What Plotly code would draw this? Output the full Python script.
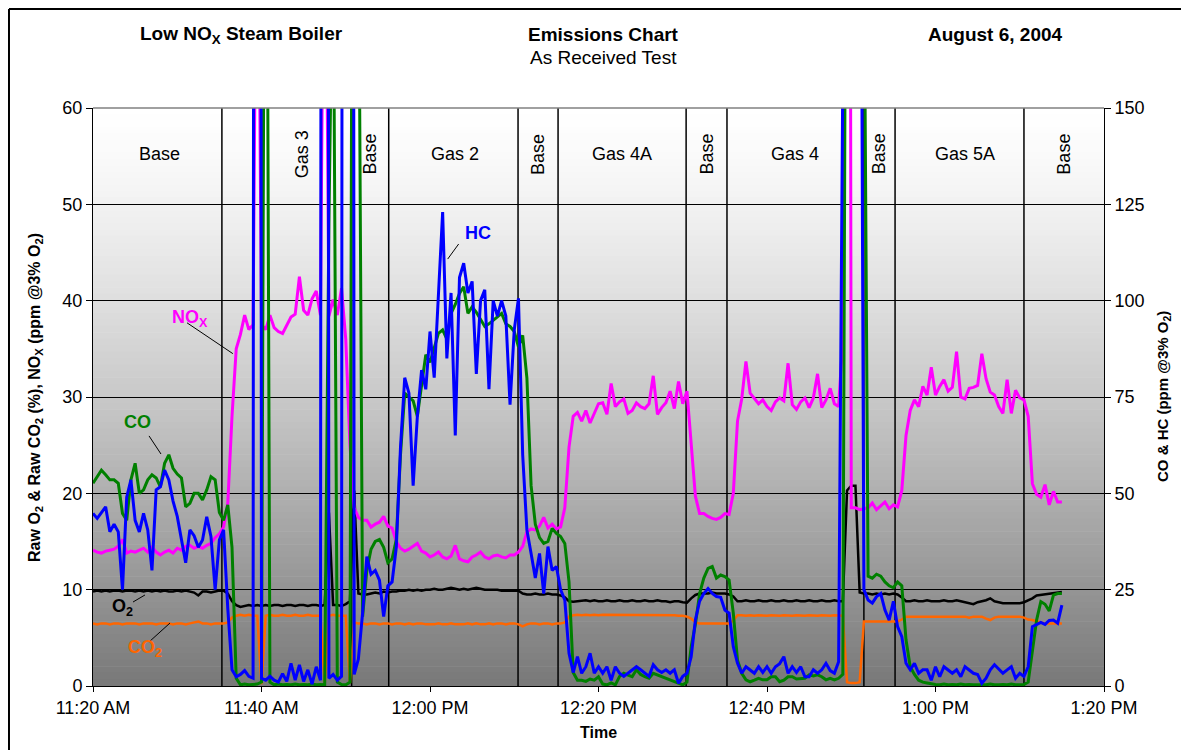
import plotly.graph_objects as go
from datetime import datetime, timedelta

# ---------------- data ----------------
start_time = datetime(2004, 8, 6, 11, 20)
sample_step_min = 0.5          # logger interval in minutes

# Raw O2 (%)  -- left axis, blocks of 5 minutes
o2_pct = [
    9.8, 9.9, 9.8, 9.9, 9.8, 9.9, 9.9, 9.8, 9.9, 9.9,
    9.8, 9.9, 9.8, 9.9, 9.8, 9.9, 9.8, 9.9, 9.8, 9.8,
    9.9, 9.8, 9.9, 9.8, 9.7, 9.4, 9.8, 9.8, 9.7, 9.8,
    9.9, 9.9, 9.6, 8.8, 8.4, 8.2, 8.3, 8.4, 8.3, 8.4,
    8.3, 8.4, 8.3, 8.4, 8.4, 8.3, 8.4, 8.4, 8.3, 8.4,
    8.4, 8.3, 8.4, 8.4, 8.3, 8.4, 18.0, 8.4, 8.4, 8.3,
    8.5, 8.8, 20.3, 9.6, 9.5, 9.5, 9.6, 9.7, 9.6, 9.8,
    9.7, 9.8, 9.8, 9.9, 9.9, 10.0, 9.9, 10.0, 9.9, 10.0,
    10.0, 10.1, 10.0, 10.0, 10.1, 10.2, 10.1, 10.0, 10.1, 10.0,
    10.1, 10.2, 10.1, 10.0, 10.0, 10.0, 10.0, 9.9, 9.9, 9.9,
    9.9, 9.9, 9.6, 9.5, 9.5, 9.6, 9.5, 9.5, 9.6, 9.5,
    9.5, 9.4, 9.2, 8.8, 8.75, 8.8, 8.8, 8.9, 8.8, 8.9,
    8.8, 8.8, 8.9, 8.8, 8.8, 8.9, 8.8, 8.8, 8.9, 8.8,
    8.8, 8.9, 8.8, 8.8, 8.9, 8.8, 8.8, 8.7, 8.8, 8.8,
    8.7, 8.65, 9.1, 9.45, 9.6, 9.6, 9.6, 9.7, 9.6, 9.6,
    9.6, 9.5, 9.3, 8.8, 8.8, 8.9, 8.8, 8.8, 8.9, 8.8,
    8.8, 8.9, 8.8, 8.8, 8.9, 8.8, 8.8, 8.9, 8.8, 8.8,
    8.9, 8.8, 8.8, 8.9, 8.8, 8.8, 8.9, 8.8, 8.8, 20.3,
    20.8, 20.8, 9.7, 9.6, 9.6, 9.5, 9.6, 9.5, 9.6, 9.5,
    9.6, 9.5, 9.2, 8.8, 8.8, 8.9, 8.8, 8.8, 8.9, 8.8,
    8.8, 8.8, 8.9, 8.8, 8.8, 8.9, 8.8, 8.7, 8.6, 8.5,
    8.7, 8.8, 8.9, 9.1, 8.8, 8.7, 8.6, 8.6, 8.6, 8.6,
    8.6, 8.7, 8.9, 9.1, 9.4, 9.45, 9.5, 9.6, 9.65, 9.7,
    9.75,
]

# Raw CO2 (%)  -- left axis
co2_pct = [
    6.5, 6.4, 6.5, 6.5, 6.4, 6.5, 6.5, 6.4, 6.5, 6.5,
    6.5, 6.4, 6.5, 6.5, 6.5, 6.4, 6.5, 6.5, 6.5, 6.4,
    6.5, 6.5, 6.4, 6.5, 6.6, 6.7, 6.5, 6.5, 6.4, 6.5,
    6.5, 6.5, 6.6, 7.1, 7.3, 7.4, 7.3, 7.4, 7.3, 7.3,
    0.2, 7.3, 7.4, 7.3, 7.3, 7.4, 7.3, 7.3, 7.4, 7.3,
    7.3, 7.4, 7.3, 7.3, 7.3, 0.2, 7.3, 7.4, 7.3, 7.3,
    7.3, 0.3, 6.6, 6.5, 6.5, 6.4, 6.5, 6.5, 6.4, 6.5,
    6.5, 6.4, 6.5, 6.5, 6.4, 6.5, 6.4, 6.5, 6.5, 6.4,
    6.4, 6.4, 6.5, 6.4, 6.4, 6.5, 6.4, 6.4, 6.4, 6.5,
    6.4, 6.5, 6.4, 6.4, 6.5, 6.4, 6.5, 6.5, 6.4, 6.5,
    6.5, 6.4, 6.2, 6.4, 6.5, 6.5, 6.4, 6.5, 6.5, 6.4,
    6.5, 6.5, 6.6, 7.2, 7.35, 7.4, 7.35, 7.4, 7.35, 7.4,
    7.35, 7.4, 7.4, 7.35, 7.4, 7.35, 7.4, 7.35, 7.4, 7.35,
    7.4, 7.35, 7.4, 7.35, 7.4, 7.35, 7.35, 7.4, 7.35, 7.3,
    7.3, 7.2, 7.0, 6.6, 6.5, 6.5, 6.5, 6.5, 6.5, 6.5,
    6.5, 6.5, 6.8, 7.35, 7.35, 7.3, 7.35, 7.3, 7.35, 7.3,
    7.3, 7.35, 7.3, 7.3, 7.35, 7.3, 7.3, 7.35, 7.3, 7.3,
    7.35, 7.3, 7.3, 7.35, 7.3, 7.3, 7.35, 7.3, 7.3, 0.4,
    0.3, 0.3, 0.4, 6.7, 6.7, 6.7, 6.7, 6.7, 6.7, 6.7,
    6.7, 6.7, 6.9, 7.2, 7.2, 7.2, 7.2, 7.2, 7.2, 7.2,
    7.2, 7.2, 7.2, 7.2, 7.2, 7.2, 7.2, 7.2, 7.1, 7.2,
    7.2, 7.2, 7.0, 6.85, 7.1, 7.2, 7.2, 7.2, 7.2, 7.2,
    7.2, 7.1, 6.9, 6.85, 6.7, 6.6, 6.5, 6.5, 6.5, 6.5,
    6.5,
]

# NOx (ppm @3% O2)  -- left axis
nox_ppm = [
    14.1, 13.9, 13.8, 14.0, 14.1, 14.2, 14.5, 15.2, 13.8, 14.0,
    13.9, 14.1, 14.3, 13.9, 14.4, 13.9, 13.6, 13.9, 14.1, 13.8,
    14.3, 14.1, 14.5, 14.6, 14.3, 14.5, 14.3, 14.6, 14.8, 15.4,
    15.8, 16.5, 19.0, 28.0, 35.0, 36.5, 38.5, 37.0, 37.5, 95.0,
    37.5, 37.0, 38.5, 37.2, 36.8, 36.6, 37.4, 38.3, 38.6, 42.5,
    39.0, 38.5, 40.2, 41.0, 38.5, 95.0, 38.4, 40.1, 38.5, 41.3,
    36.0, 25.0, 18.5, 17.5, 17.2, 17.2, 16.5, 16.8, 17.0, 17.6,
    16.6, 16.4, 15.0, 14.3, 14.0, 14.2, 14.5, 14.8, 14.0, 13.8,
    13.4, 13.6, 13.9, 13.4, 13.2, 13.5, 14.6, 13.2, 13.0, 12.9,
    13.4, 13.6, 13.9, 13.4, 13.2, 13.5, 13.6, 13.4, 13.3, 13.6,
    13.6, 13.9, 14.5, 16.0, 16.3, 16.2, 16.6, 17.5, 16.4, 16.8,
    16.3, 16.5, 18.5, 24.8, 28.0, 28.4, 27.5, 28.6, 27.3, 28.3,
    29.3, 29.4, 28.2, 31.4, 29.0, 29.5, 29.8, 28.3, 28.6, 29.4,
    29.0, 28.8, 29.3, 32.2, 28.2, 28.9, 29.4, 30.6, 28.8, 31.6,
    29.3, 30.6, 24.8, 19.7, 17.9, 17.9, 17.6, 17.4, 17.3, 17.5,
    17.9, 17.8, 20.0, 27.5, 29.8, 33.7, 30.4, 29.9, 29.3, 29.7,
    29.0, 28.6, 29.5, 29.9, 29.6, 33.5, 29.2, 28.7, 29.5, 29.9,
    28.9, 29.9, 32.4, 28.9, 29.7, 30.9, 29.3, 29.0, 36.0, 300.0,
    18.5, 18.5, 18.3, 18.4, 18.5, 19.0, 18.3, 18.7, 19.1, 18.4,
    18.8, 18.6, 20.3, 26.0, 28.6, 29.7, 29.0, 31.1, 30.2, 33.1,
    30.2, 31.1, 31.8, 30.6, 31.0, 34.7, 30.0, 29.8, 30.9, 31.0,
    31.2, 34.5, 31.9, 30.5, 30.2, 29.0, 28.3, 31.8, 28.3, 30.7,
    29.9, 29.7, 28.0, 21.0, 19.9, 19.6, 20.9, 18.8, 20.2, 19.1,
    19.1,
]

# CO (ppm @3% O2)  -- right axis
co_ppm = [
    52.6, 54.3, 56.0, 54.8, 53.5, 53.5, 52.6, 44.8, 43.0, 53.5,
    57.8, 50.0, 50.9, 53.5, 54.8, 54.0, 51.7, 57.8, 60.0, 56.5,
    55.0, 54.0, 46.5, 47.4, 50.0, 50.0, 48.3, 50.9, 54.3, 53.5,
    45.0, 43.0, 47.0, 36.0, 2.0, 0.3, 0.5, 0.3, 0.4, 0.5,
    1.0, 300.0, 1.0, 0.3, 0.5, 0.3, 0.4, 0.3, 0.5, 0.3,
    0.4, 0.3, 0.5, 0.3, 0.4, 0.3, 120.0, 200.0, 1.0, 0.4,
    0.3, 1.0, 400.0, 200.0, 18.0, 30.0, 35.5, 37.5, 38.0, 36.0,
    32.0, 33.0, 38.0, 60.0, 76.0, 75.0, 74.0, 70.0, 78.0, 86.0,
    84.0, 88.0, 91.5, 92.4, 90.0, 96.7, 99.0, 101.9, 103.6, 96.7,
    98.4, 97.0, 95.0, 93.3, 94.0, 95.0, 95.8, 96.7, 94.0, 93.3,
    92.0, 88.0, 91.0, 80.0, 52.0, 42.0, 38.5, 37.0, 37.5, 40.9,
    39.6, 38.8, 37.0, 27.0, 3.5, 1.5, 1.5, 1.2, 1.8, 1.5,
    2.4, 0.5, 0.3, 0.8, 0.3, 2.5, 3.3, 2.8, 2.4, 4.2,
    3.0, 2.4, 2.0, 3.3, 2.9, 2.5, 1.9, 1.5, 1.2, 0.8,
    0.3, 1.0, 10.2, 16.0, 24.0, 28.0, 30.5, 31.0, 28.0, 28.8,
    28.4, 27.5, 18.9, 6.7, 3.3, 1.6, 1.1, 1.5, 2.0, 1.6,
    1.6, 2.4, 2.4, 1.1, 1.5, 2.4, 2.4, 1.8, 1.9, 2.0,
    2.9, 2.6, 2.9, 2.4, 1.6, 2.0, 1.6, 2.0, 3.0, 300.0,
    1000.0, 1000.0, 1000.0, 200.0, 28.5, 28.0, 29.0, 28.5, 27.0, 26.0,
    25.5, 27.0, 26.0, 12.0, 5.0, 3.0, 1.5, 1.0, 0.8, 0.5,
    0.4, 0.3, 0.5, 0.3, 0.4, 0.3, 0.5, 0.3, 0.4, 0.3,
    0.3, 0.4, 0.3, 0.5, 0.3, 0.3, 0.4, 0.3, 0.5, 0.3,
    0.3, 0.4, 1.0, 9.0, 17.1, 21.9, 21.2, 19.5, 23.6, 24.0,
    24.0,
]

# HC (ppm @3% O2)  -- right axis
hc_ppm = [
    44.8, 43.5, 45.0, 46.5, 40.0, 42.0, 40.0, 25.0, 49.0, 53.5,
    43.0, 40.0, 44.8, 40.5, 30.0, 50.9, 51.7, 56.0, 53.5, 48.0,
    44.0, 38.0, 32.0, 40.5, 39.0, 36.0, 37.9, 43.9, 38.8, 25.0,
    37.9, 40.5, 20.0, 4.2, 2.4, 3.0, 4.0, 2.5, 2.0, 1500.0,
    2.0, 1.5, 2.5, 1.5, 1.0, 3.2, 1.2, 5.9, 1.5, 5.5,
    1.2, 4.2, 0.5, 5.0, 1.5, 1500.0, 2.0, 3.0, 1.5, 2.5,
    1500.0, 1500.0, 3.0, 7.0, 19.0, 33.6, 29.0, 30.0, 27.5, 18.0,
    26.0, 27.0, 36.0, 62.0, 80.0, 76.0, 52.0, 70.0, 82.0, 77.0,
    92.0, 80.0, 100.0, 123.0, 85.0, 102.0, 65.0, 106.0, 109.7, 102.0,
    105.0, 81.0, 100.0, 102.8, 77.0, 100.0, 96.0, 100.0, 96.0, 73.0,
    92.4, 100.6, 60.0, 40.5, 34.4, 28.0, 34.4, 24.0, 36.2, 30.0,
    31.0, 25.0, 22.3, 8.5, 3.5, 7.6, 3.3, 5.0, 8.5, 3.3,
    5.0, 3.3, 5.0, 1.5, 5.0, 3.3, 2.5, 3.3, 4.0, 5.0,
    4.2, 3.3, 2.5, 5.5, 4.2, 3.5, 4.2, 3.3, 4.2, 0.7,
    2.5, 3.3, 7.6, 17.1, 22.0, 24.0, 25.3, 24.0, 23.2, 23.0,
    19.7, 18.9, 10.2, 5.9, 3.3, 5.0, 4.2, 3.3, 5.0, 3.5,
    5.0, 3.3, 5.0, 5.8, 7.6, 3.3, 5.0, 3.5, 5.0, 2.4,
    2.4, 4.2, 3.3, 4.2, 5.9, 4.0, 3.3, 6.3, 160.0, 1500.0,
    1500.0, 1500.0, 300.0, 25.0, 22.3, 21.5, 23.2, 24.0, 19.7, 17.1,
    22.0, 15.4, 12.8, 5.9, 4.2, 5.9, 3.3, 4.2, 4.2, 1.5,
    5.0, 2.4, 5.0, 4.2, 3.3, 4.2, 2.4, 5.0, 4.2, 3.3,
    3.0, 0.7, 2.0, 4.2, 5.5, 4.5, 3.3, 4.2, 5.0, 2.0,
    3.3, 2.5, 5.0, 15.4, 16.0, 16.5, 16.0, 17.0, 17.1, 16.3,
    21.0,
]

# test sections (minutes after 11:20)
section_bounds_min = [15.3, 30.7, 35.1, 50.45, 55.2, 70.4, 75.25, 91.5, 95.2, 110.5]
section_label_min = [7.9, 24.8, 32.9, 43.0, 52.8, 62.8, 72.9, 83.3, 93.3, 103.5, 115.3]
section_label_text = ["Base", "Gas 3", "Base", "Gas 2", "Base", "Gas 4A",
                      "Base", "Gas 4", "Base", "Gas 5A", "Base"]
section_label_vertical = [False, True, True, False, True, False,
                          True, False, True, False, True]

x_tick_min = [0, 20, 40, 60, 80, 100, 120]
x_tick_text = ["11:20 AM", "11:40 AM", "12:00 PM", "12:20 PM",
               "12:40 PM", "1:00 PM", "1:20 PM"]

# ---------------- figure ----------------
FONT = "Arial, Liberation Sans, sans-serif"


def t(m):
    return start_time + timedelta(minutes=m)


n = len(nox_ppm)
times = [t(sample_step_min * i) for i in range(n)]

fig = go.Figure()
fig.add_trace(go.Scatter(x=times, y=co2_pct, mode="lines", name="CO2",
                         line=dict(color="#FF6600", width=2.5)))
fig.add_trace(go.Scatter(x=times, y=o2_pct, mode="lines", name="O2",
                         line=dict(color="#000000", width=2.5)))
fig.add_trace(go.Scatter(x=times, y=nox_ppm, mode="lines", name="NOx",
                         line=dict(color="#FF00FF", width=3)))
fig.add_trace(go.Scatter(x=times, y=co_ppm, mode="lines", name="CO", yaxis="y2",
                         line=dict(color="#008000", width=3)))
fig.add_trace(go.Scatter(x=times, y=hc_ppm, mode="lines", name="HC", yaxis="y2",
                         line=dict(color="#0000FF", width=3)))

shapes = []
# gradient background of plot area
nb = 90
for i in range(nb):
    f = (i + 0.5) / nb           # fraction from the top
    c = int(round(255 - 135 * f ** 1.3))
    shapes.append(dict(type="rect", xref="paper", yref="paper", layer="below",
                       x0=0, x1=1, y0=1 - (i + 1) / nb, y1=1 - i / nb + 0.001,
                       fillcolor=f"rgb({c},{c},{c})", line=dict(width=0)))
# section boundaries
for b in section_bounds_min:
    shapes.append(dict(type="line", xref="x", yref="paper", layer="below",
                       x0=t(b), x1=t(b), y0=0, y1=1,
                       line=dict(color="#000000", width=1.5)))
# top border of plot area
shapes.append(dict(type="line", xref="paper", yref="paper", x0=0, x1=1, y0=1, y1=1,
                   line=dict(color="#808080", width=1.5)))
# outer frame (left and top)
shapes.append(dict(type="line", xref="paper", yref="paper",
                   x0=-0.0831, x1=-0.0831, y0=-0.12, y1=1.1713,
                   line=dict(color="#000000", width=2)))
shapes.append(dict(type="line", xref="paper", yref="paper",
                   x0=-0.0831, x1=1.09, y0=1.1713, y1=1.1713,
                   line=dict(color="#000000", width=2)))

# series label leader lines (data coords)
leaders = [
    ("y", 11.16, 37.7, 16.6, 34.5),
    ("y2", 43.4, 114.7, 42.1, 110.8),
    ("y2", 6.65, 64.9, 8.07, 60.2),
    ("y", 4.75, 8.72, 6.17, 9.45),
    ("y", 6.65, 4.57, 9.14, 6.54),
]
for yr, m0, v0, m1, v1 in leaders:
    shapes.append(dict(type="line", xref="x", yref=yr, x0=t(m0), x1=t(m1),
                       y0=v0, y1=v1, line=dict(color="#000000", width=1)))

annotations = []
# header texts
hdr = dict(xref="paper", yref="paper", showarrow=False, xanchor="center",
           yanchor="middle", font=dict(family=FONT, size=19, color="#000"))
annotations += [
    dict(text="<b>Low NO<sub>X</sub> Steam Boiler</b>", x=0.1464, y=1.1263, **hdr),
    dict(text="<b>Emissions Chart</b>", x=0.5045, y=1.1263, **hdr),
    dict(text="As Received Test", x=0.505, y=1.088, **hdr),
    dict(text="<b>August 6, 2004</b>", x=0.893, y=1.1263, **hdr),
]
# axis titles
annotations += [
    dict(text="<b>Raw O<sub>2</sub> & Raw CO<sub>2</sub> (%), NO<sub>X</sub> (ppm @3% O<sub>2</sub>)</b>",
         xref="paper", yref="paper", x=-0.0574, y=0.5, textangle=-90, showarrow=False,
         xanchor="center", yanchor="middle",
         font=dict(family=FONT, size=16, color="#000")),
    dict(text="<b>CO & HC (ppm @3% O<sub>2</sub>)</b>",
         xref="paper", yref="paper", x=1.0584, y=0.5, textangle=-90, showarrow=False,
         xanchor="center", yanchor="middle",
         font=dict(family=FONT, size=15, color="#000")),
    dict(text="<b>Time</b>", xref="paper", yref="paper", x=0.5, y=-0.0796,
         showarrow=False, xanchor="center", yanchor="middle",
         font=dict(family=FONT, size=16, color="#000")),
]
# section labels
for m, txt, vert in zip(section_label_min, section_label_text, section_label_vertical):
    annotations.append(dict(text=txt, x=t(m), y=55.2, xref="x", yref="y",
                            showarrow=False, textangle=-90 if vert else 0,
                            xanchor="center", yanchor="middle",
                            font=dict(family=FONT, size=18, color="#000")))
# series labels
lab = [
    ("<b>NO<sub>X</sub></b>", 11.5, 38.2, "y", "#FF00FF"),
    ("<b>HC</b>", 45.7, 117.6, "y2", "#0000FF"),
    ("<b>CO</b>", 5.34, 68.5, "y2", "#008000"),
    ("<b>O<sub>2</sub></b>", 3.56, 8.2, "y", "#000000"),
    ("<b>CO<sub>2</sub></b>", 6.17, 3.94, "y", "#FF6600"),
]
for txt, m, v, yr, col in lab:
    annotations.append(dict(text=txt, x=t(m), y=v, xref="x", yref=yr,
                            showarrow=False, xanchor="center", yanchor="middle",
                            font=dict(family=FONT, size=18, color=col)))

# page body adds an 8 px offset, so the figure is 8 px smaller on each side
fig.update_layout(
    width=1181, height=742,
    margin=dict(l=85, r=85, t=100, b=64),
    paper_bgcolor="white", plot_bgcolor="rgba(0,0,0,0)",
    showlegend=False, hovermode=False,
    font=dict(family=FONT, size=18, color="#000"),
    shapes=shapes, annotations=annotations,
    xaxis=dict(range=[t(0), t(120)], tickvals=[t(m) for m in x_tick_min],
               ticktext=x_tick_text, ticks="outside", ticklen=5, tickcolor="#000",
               showline=True, linecolor="#000", linewidth=1, showgrid=False,
               zeroline=False, tickfont=dict(size=18)),
    yaxis=dict(range=[0, 60], dtick=10, ticks="outside", ticklen=6, tickcolor="#000",
               showline=True, linecolor="#000", linewidth=1, showgrid=True,
               gridcolor="#000", gridwidth=1, zeroline=False, tickfont=dict(size=18)),
    yaxis2=dict(range=[0, 150], dtick=25, overlaying="y", side="right",
                ticks="outside", ticklen=6, tickcolor="#000", showline=True,
                linecolor="#000", linewidth=1, showgrid=False, zeroline=False,
                tickfont=dict(size=18)),
)

fig.write_html("out.html")
